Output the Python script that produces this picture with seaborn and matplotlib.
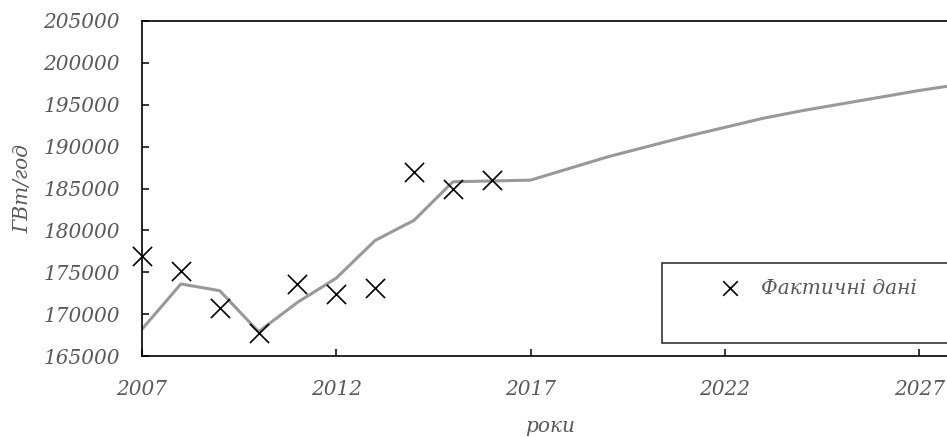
import matplotlib
matplotlib.use("Agg")
import matplotlib.pyplot as plt
from matplotlib.lines import Line2D
import seaborn as sns

# actual observations
years_actual = [2007, 2008, 2009, 2010, 2011, 2012, 2013, 2014, 2015, 2016]
actual = [176900, 175200, 170700, 167800, 173600, 172400, 173100, 187000, 185000, 186000]

# trend / forecast line
years_trend = list(range(2007, 2029))
trend = [168200, 173600, 172800, 167900, 171400, 174300, 178800, 181200, 185800, 185900,
         186000, 187400, 188800, 190000, 191200, 192300, 193400, 194300, 195100, 195900,
         196700, 197400]

x_ticks = [2007, 2012, 2017, 2022, 2027]
y_ticks = list(range(165000, 205001, 5000))

sns.set_theme(style="white")
plt.rcParams["font.family"] = ["DejaVu Serif"]
plt.rcParams["font.style"] = "italic"

TXT = "#595959"
FS = 14.5

fig = plt.figure(figsize=(9.47, 4.37), dpi=100)
ax = fig.add_axes([142 / 947, 81 / 437, 816 / 947, 335 / 437])

sns.lineplot(x=years_trend, y=trend, color="#999999", linewidth=2.2, ax=ax, zorder=2)
sns.scatterplot(x=years_actual, y=actual, marker="x", color="black", s=190,
                linewidth=1.2, ax=ax, zorder=3, label="Фактичні дані", clip_on=False)

ax.set_xlim(2007, 2028)
ax.set_ylim(165000, 205000)
ax.set_xticks(x_ticks)
ax.set_yticks(y_ticks)
ax.set_xticklabels([str(t) for t in x_ticks])
ax.set_yticklabels([str(t) for t in y_ticks])

for side in ["left", "bottom", "top", "right"]:
    ax.spines[side].set_color("black")
    ax.spines[side].set_linewidth(1.2)
ax.spines["right"].set_visible(False)

ax.tick_params(axis="both", direction="in", length=5, width=1.1, color="black",
               labelsize=FS, labelcolor=TXT)
ax.tick_params(axis="y", pad=16, left=True)
ax.tick_params(axis="x", pad=17, bottom=True)

ax.set_xlabel("роки", fontsize=FS, color=TXT, labelpad=13)
ax.set_ylabel("ГВт/год", fontsize=FS, color=TXT, labelpad=8)

handles, labels = ax.get_legend_handles_labels()
blank = Line2D([], [], color="none")
leg = ax.legend(handles + [blank], labels + [" "], loc="upper left",
                bbox_to_anchor=(662 / 947, 1 - 267 / 437, (965 - 662) / 947, 0.01),
                bbox_transform=fig.transFigure, mode="expand", borderaxespad=0,
                fancybox=False, frameon=True, fontsize=FS, handlelength=5.2,
                handletextpad=-1.1, borderpad=0.8, labelcolor=TXT)
leg.get_frame().set_edgecolor("black")
leg.get_frame().set_linewidth(1.2)
leg.legend_handles[0].set_sizes([110])

fig.savefig("out.png", dpi=100)
